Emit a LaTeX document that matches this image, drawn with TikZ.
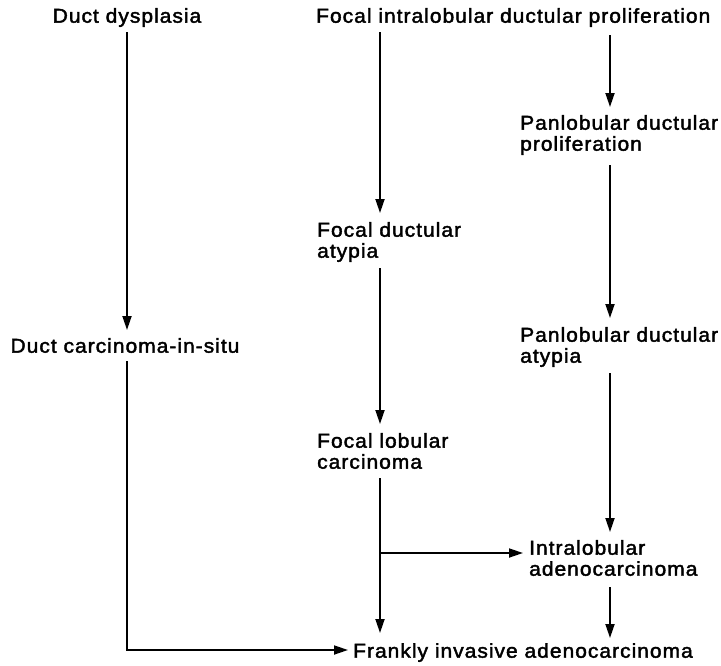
\documentclass[tikz,border=0pt]{standalone}
\usepackage{fontspec}
\setmainfont{Liberation Sans}[FakeStretch=1.05,LetterSpace=5,FakeBold=2]
\usetikzlibrary{arrows.meta,calc}
\begin{document}
\begin{tikzpicture}[x=1pt,y=-1pt,
  lbl/.style={inner sep=0pt,align=left,font=\fontsize{20}{21}\selectfont},
  arr/.style={line width=1.8pt,-{Triangle[length=14pt,width=9pt]}}]
\useasboundingbox (0,0) rectangle (721,665);
\coordinate (colL) at (127,0);
\coordinate (colM) at (380,0);
\coordinate (colR) at (610,0);
% nodes
\node[lbl,anchor=north] (dd) at (127,8) {Duct dysplasia};
\node[lbl,anchor=north west] (fidp) at (316,8) {Focal intralobular ductular proliferation};
\node[lbl,anchor=north west] (pdp) at (520,115) {Panlobular ductular\\proliferation};
\node[lbl,anchor=north west] (fda) at (317,222) {Focal ductular\\atypia};
\node[lbl,anchor=north] (dcis) at (125,338) {Duct carcinoma-in-situ};
\node[lbl,anchor=north west] (pda) at (520,327) {Panlobular ductular\\atypia};
\node[lbl,anchor=north west] (flc) at (317,433) {Focal lobular\\carcinoma};
\node[lbl,anchor=north west] (ia) at (529,540) {Intralobular\\adenocarcinoma};
\node[lbl,anchor=north west] (fia) at (353,643) {Frankly invasive adenocarcinoma};
\coordinate (br) at (380,553);
% left column
\draw[arr] ($(dd.south -| colL)+(0,5)$) -- ($(dcis.north -| colL)+(0,-8)$);
\draw[arr] ($(dcis.south -| colL)+(0,8)$) |- ($(fia.north west)+(-5,7)$);
% middle column
\draw[arr] ($(fidp.south -| colM)+(0,5)$) -- ($(fda.north -| colM)+(0,-9)$);
\draw[arr] ($(fda.south -| colM)+(0,6)$) -- ($(flc.north -| colM)+(0,-9)$);
\draw[arr] ($(flc.south -| colM)+(0,9)$) -- ($(fia.north -| colM)+(0,-10)$);
\draw[arr] (br) -- ($(br -| ia.west)+(-6,0)$);
% right column
\draw[arr] ($(fidp.south -| colR)+(0,8)$) -- ($(pdp.north -| colR)+(0,-8)$);
\draw[arr] ($(pdp.south -| colR)+(0,10)$) -- ($(pda.north -| colR)+(0,-9)$);
\draw[arr] ($(pda.south -| colR)+(0,6)$) -- ($(ia.north -| colR)+(0,-8)$);
\draw[arr] ($(ia.south -| colR)+(0,11)$) -- ($(fia.north -| colR)+(0,-5)$);
\end{tikzpicture}
\end{document}
